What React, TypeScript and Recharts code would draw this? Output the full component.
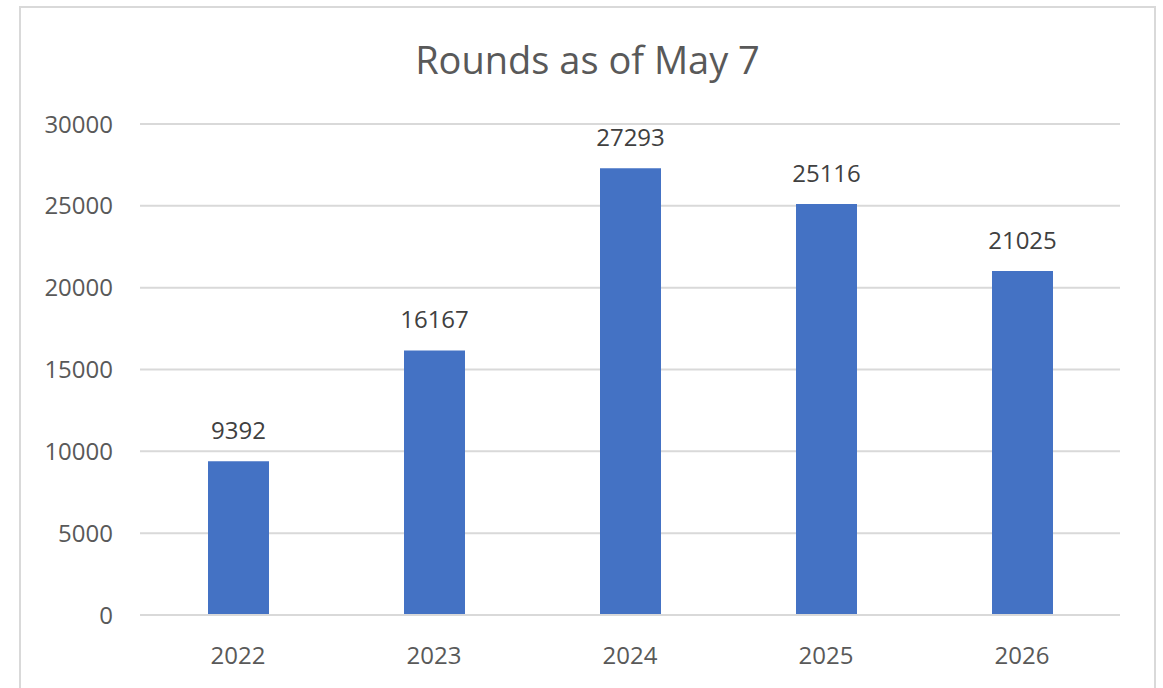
import React from "react";
import { BarChart, Bar, XAxis, YAxis, CartesianGrid, LabelList } from "recharts";

const years = ["2022", "2023", "2024", "2025", "2026"];
const rounds = [9392, 16167, 27293, 25116, 21025];
const yTicks = [0, 5000, 10000, 15000, 20000, 25000, 30000];

const FONT = "'Open Sans', 'Noto Sans', sans-serif";

export default function App() {
  const data = years.map((year, i) => ({ year, rounds: rounds[i] }));

  return (
    <div style={{ position: "fixed", left: 0, top: 0, width: 1163, height: 688, background: "#fff", overflow: "hidden" }}>
      <div
        style={{
          position: "absolute", left: 19, top: 6, width: 1133, height: 700,
          border: "2px solid #d9d9d9", boxSizing: "content-box",
        }}
      />
      <div
        style={{
          position: "absolute", left: 0, width: 1175, top: 33, textAlign: "center",
          fontFamily: FONT, fontSize: 38, color: "#595959", lineHeight: "52px",
        }}
      >
        Rounds as of May 7
      </div>
      <div style={{ position: "absolute", left: 0, top: 0 }}>
        <BarChart width={1163} height={688} data={data} margin={{ top: 124, right: 43, left: 0, bottom: 0 }}>
          <CartesianGrid vertical={false} stroke="#d9d9d9" strokeWidth={2} />
          <XAxis
            dataKey="year"
            height={73}
            axisLine={{ stroke: "#d9d9d9", strokeWidth: 2 }}
            tickLine={false}
            tickMargin={26}
            tick={{ fill: "#595959", fontSize: 24, fontFamily: FONT }}
          />
          <YAxis
            width={140}
            domain={[0, 30000]}
            ticks={yTicks}
            axisLine={false}
            tickLine={false}
            tickMargin={21}
            tick={{ fill: "#595959", fontSize: 24, fontFamily: FONT }}
          />
          <Bar dataKey="rounds" fill="#4472c4" barSize={61} isAnimationActive={false}>
            <LabelList dataKey="rounds" position="top" offset={22} fill="#404040" fontSize={24} fontFamily={FONT} />
          </Bar>
        </BarChart>
      </div>
    </div>
  );
}
